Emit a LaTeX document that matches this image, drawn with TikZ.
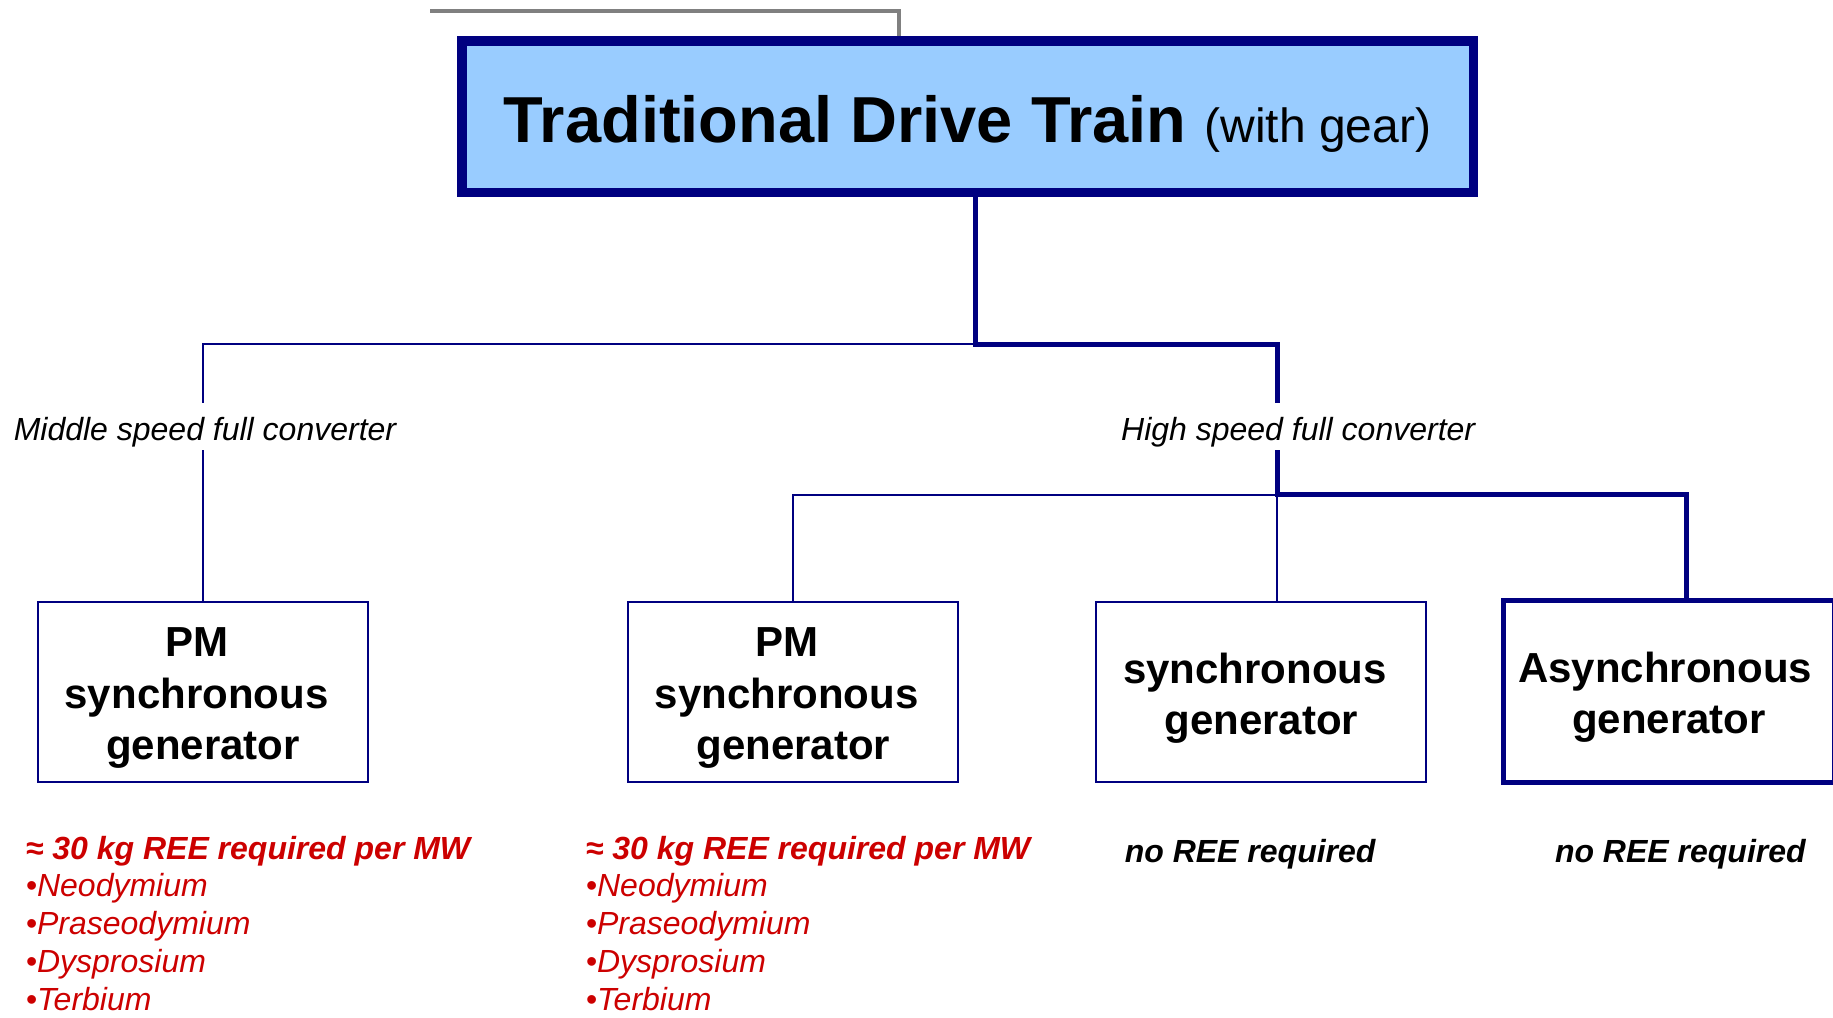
\documentclass[tikz,border=0pt]{standalone}
\usepackage{fontspec}
\setmainfont{Liberation Sans}
\definecolor{navy}{RGB}{0,0,128}
\definecolor{lblue}{RGB}{153,204,255}
\definecolor{reer}{RGB}{204,0,0}
\definecolor{grayline}{RGB}{128,128,128}
\begin{document}
\begin{tikzpicture}[x=1pt,y=-1pt,
  thinln/.style={draw=navy, line width=2pt},
  thickln/.style={draw=navy, line width=5pt},
  grayln/.style={draw=grayline, line width=4.5pt},
  genbox/.style={draw=navy, line width=2pt, minimum width=330pt, minimum height=180pt,
    inner sep=0pt, outer sep=0pt},
  gentext/.style={inner sep=0pt, align=center, font=\fontsize{42}{51.4}\selectfont\bfseries},
  topbox/.style={draw=navy, fill=lblue, line width=9.5pt, minimum width=1011.5pt,
    minimum height=151.5pt, inner sep=0pt, outer sep=0pt, text height=58pt, text depth=5.8pt,
    font=\fontsize{65}{70}\selectfont\bfseries},
  convlabel/.style={font=\fontsize{32}{38}\selectfont\itshape, inner xsep=4pt, inner ysep=4pt,
    text height=33pt, text depth=6pt},
  reetxt/.style={font=\fontsize{32}{38}\selectfont\itshape, text=reer, inner sep=0pt, anchor=base west},
  noree/.style={font=\fontsize{32}{38}\selectfont\bfseries\itshape, inner sep=0pt, anchor=base west}
]
\useasboundingbox (0,0) rectangle (1833,1017);
\clip (0,0) rectangle (1833,1017);

% nodes
\node[topbox] (top) at (967.5,116.5) {Traditional Drive Train {\fontsize{48}{52}\selectfont\mdseries (with gear)}};
\node[convlabel, anchor=base] (ms) at (205,440) {Middle speed full converter};
\node[convlabel, anchor=base west] (hs) at (1117,440) {High speed full converter};

\node[genbox] (b1) at (203,692) {};
\node[genbox] (b2) at (793.2,692) {};
\node[genbox] (b3) at (1261.4,692) {};
\node[genbox, line width=5pt, minimum width=331.5pt, minimum height=182pt] (b4) at (1669,691.5) {};
\node[gentext] (t1) at ([yshift=-6pt]b1.center) {PM\kern13pt\\ synchronous\kern13pt\\ generator};
\node[gentext] (t2) at ([yshift=-6pt]b2.center) {PM\kern13pt\\ synchronous\kern13pt\\ generator};
\node[gentext] (t3) at ([yshift=-6pt]b3.center) {synchronous\kern13pt\\ generator};
\node[gentext] (t4) at ([yshift=-6pt]b4.center) {Asynchronous\kern8pt\\ generator};

% junctions
\coordinate (g0) at (430,10.8);
\coordinate (g1) at (899,36);
\coordinate (j1) at (975,344);
\coordinate (jL) at (203,344);
\coordinate (jR) at (1277,344);
\coordinate (j2) at (1277,494.5);
\coordinate (j2L) at (793.2,494.5);
\coordinate (j2R) at (1686,494.5);

% connectors
\draw[grayln] (g0) -| (g1);
\draw[thickln] (top.south -| j1) -- (j1) -- (jR) -- (hs.north -| jR);
\draw[thinln] (j1) -- (jL) -- (ms.north -| jL);
\draw[thinln] (ms.south -| jL) -- (b1.north);
\draw[thickln] (hs.south -| jR) -- (j2) -- (j2R) -- (b4.north -| j2R);
\draw[thinln] (j2) -- (j2L) -- (b2.north);
\draw[thinln] (j2) -- (b3.north -| j2);

% bottom texts
\node[reetxt, font=\fontsize{32}{38}\selectfont\bfseries\itshape] (la0) at (25.7,859) {≈ 30 kg REE required per MW};
\node[reetxt, font=\fontsize{32}{38}\selectfont\bfseries\itshape] (ra0) at (585.7,859) {≈ 30 kg REE required per MW};
\foreach \t [count=\i] in {Neodymium,Praseodymium,Dysprosium,Terbium} {
  \node[reetxt] (la\i) at (25.7,{859+37.8*\i}) {•\t};
  \node[reetxt] (ra\i) at (585.7,{859+37.8*\i}) {•\t};
}
\node[noree] (n3) at (1124.6,862) {no REE required};
\node[noree] (n4) at (1554.8,862) {no REE required};
\end{tikzpicture}
\end{document}
